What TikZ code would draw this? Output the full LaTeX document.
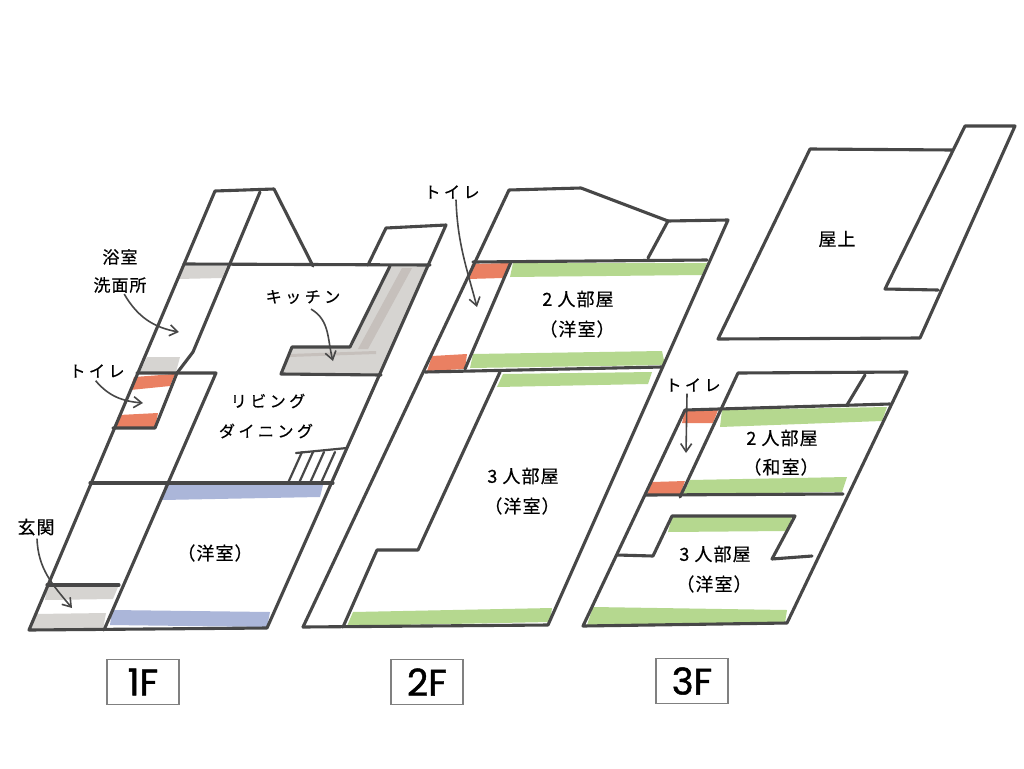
\documentclass[tikz,border=0pt]{standalone}
\usepackage{xcolor}
\usepackage{fontspec}
\usetikzlibrary{arrows.meta}
\newfontfamily\jpfont[LetterSpace=6,FakeBold=0.5]{Noto Sans CJK JP}
\newfontfamily\kanafont[LetterSpace=22,FakeBold=0.5]{Noto Sans CJK JP}
\newfontfamily\floorfont[FakeBold=1.2]{Poppins}
\definecolor{wallgrey}{HTML}{474747}
\definecolor{markgrey}{HTML}{D6D4D1}
\definecolor{streakgrey}{HTML}{C6C0BC}
\definecolor{markred}{HTML}{EA8062}
\definecolor{markblue}{HTML}{ABB6D9}
\definecolor{markgreen}{HTML}{B5D88F}
\tikzset{
  wall/.style={draw=wallgrey, line width=3.1pt, line join=round, line cap=round},
  leader/.style={draw=wallgrey, line width=1.6pt, -{Straight Barb[length=8pt,width=11pt]}},
  roomtext/.style={font=\jpfont\fontsize{18}{18}\selectfont, text=black, inner sep=1pt},
  washtext/.style={font=\jpfont\fontsize{17}{17}\selectfont, text=black, inner sep=1pt},
  kanatext/.style={font=\kanafont\fontsize{16}{16}\selectfont, text=black, inner sep=1pt},
  floorbox/.style={draw=gray, line width=1.6pt, minimum width=72pt, minimum height=45pt,
    font=\floorfont\fontsize{37}{37}\selectfont, text=black, inner sep=0pt}
}
\begin{document}
\begin{tikzpicture}[x=1pt,y=-1pt]
  \useasboundingbox (0,0) rectangle (1024,768);
  \fill[white] (0,0) rectangle (1024,768);

  % Marker colours, 1F
  \fill[markgrey] (183,266) -- (227,266) -- (222,278) -- (178,279) -- cycle;
  \fill[markgrey] (147,357) -- (180,357) -- (176,372) -- (140,372) -- cycle;
  \fill[markred] (134,377) -- (175,374) -- (170,386) -- (130,390) -- cycle;
  \fill[markred] (119,415) -- (158,413) -- (155,428) -- (114,428) -- cycle;
  \fill[markgrey] (390,266) -- (427,266) -- (381,375) -- (283,375) -- (292,347) -- (352,347) -- cycle;
  \fill[streakgrey] (402,268) -- (412,268) -- (368,349) -- (358,349) -- cycle;
  \fill[streakgrey] (290,354) -- (376,351) -- (376,354) -- (289,357) -- cycle;
  \fill[markblue] (165,485) -- (323,485) -- (320,497) -- (162,500) -- cycle;
  \fill[markblue] (112,610) -- (270,612) -- (267,627) -- (110,625) -- cycle;
  \fill[markgrey] (47,587) -- (118,587) -- (113,599) -- (45,600) -- cycle;
  \fill[markgrey] (35,614) -- (106,613) -- (103,629) -- (30,629) -- cycle;

  % Marker colours, 2F
  \fill[markred] (472,264) -- (510,263) -- (503,278) -- (468,279) -- cycle;
  \fill[markred] (432,356) -- (467,354) -- (465,369) -- (427,371) -- cycle;
  \fill[markgreen] (513,263) -- (707,263) -- (702,275) -- (510,277) -- cycle;
  \fill[markgreen] (473,354) -- (662,351) -- (665,365) -- (470,368) -- cycle;
  \fill[markgreen] (503,374) -- (652,372) -- (648,384) -- (497,387) -- cycle;
  \fill[markgreen] (353,612) -- (552,608) -- (550,622) -- (347,626) -- cycle;

  % Marker colours, 3F
  \fill[markred] (685,411) -- (718,410) -- (713,423) -- (682,423) -- cycle;
  \fill[markred] (652,482) -- (685,481) -- (680,495) -- (647,495) -- cycle;
  \fill[markgreen] (722,410) -- (887,407) -- (882,421) -- (720,427) -- cycle;
  \fill[markgreen] (690,480) -- (847,477) -- (842,492) -- (683,494) -- cycle;
  \fill[markgreen] (672,517) -- (792,517) -- (787,531) -- (668,532) -- cycle;
  \fill[markgreen] (593,607) -- (787,610) -- (785,623) -- (587,625) -- cycle;

  % Walls, 1F
  \draw[wall] (274,189) -- (215,191) -- (29,630) -- (267,628) -- (446,225) -- (386,228) -- (368,265);
  \draw[wall] (260,192) -- (193,352) -- (177,373);
  \draw[wall] (274,189) -- (313,266);
  \draw[wall] (184,264) -- (430,265);
  \draw[wall] (390,266) -- (350,347) -- (292,347) -- (281,374) -- (381,375);
  \draw[wall] (137,373) -- (216,373) -- (104,630);
  \draw[wall] (177,373) -- (155,428) -- (113,428);
  \draw[wall] (90,483) -- (333,483);
  \draw[wall] (47,585) -- (119,585);
  % Stairs
  \draw[wall, line width=2.2pt] (296,453) -- (347,448);
  \foreach \xtop/\xbot in {302/288, 313/299, 324/310, 335/321}
    \draw[wall, line width=2.2pt] (\xtop,452) -- (\xbot,483);

  % Walls, 2F
  \draw[wall] (303,627) -- (509,190) -- (581,188) -- (668,221);
  \draw[wall] (648,258) -- (668,221) -- (728,220) -- (548,625) -- (303,627);
  \draw[wall] (473,262) -- (707,260);
  \draw[wall] (511,262) -- (465,369);
  \draw[wall] (425,372) -- (662,367);
  \draw[wall] (500,372) -- (418,550) -- (377,550) -- (343,627);

  % Walls, 3F
  \draw[wall] (685,410) -- (583,626) -- (787,623) -- (907,372) -- (738,373) -- (680,497);
  \draw[wall] (685,410) -- (890,404);
  \draw[wall] (865,375) -- (847,405);
  \draw[wall] (646,495) -- (843,494);
  \draw[wall] (617,555) -- (653,556) -- (672,516) -- (795,516) -- (772,559) -- (812,556);

  % Walls, roof
  \draw[wall] (952,150) -- (810,149) -- (718,339) -- (920,338) -- (1015,126) -- (965,126) -- (885,289) -- (938,290);

  % Labels
  \node[washtext] (bathA) at (120,257) {浴室};
  \node[washtext] (bathB) at (120,285) {洗面所};
  \node[kanatext] (toiletA) at (97,371) {トイレ};
  \node[kanatext] (kitchen) at (303,297) {キッチン};
  \node[kanatext] (livingA) at (268,401) {リビング};
  \node[kanatext] (livingB) at (266,431) {ダイニング};
  \node[roomtext] (entry) at (36,527) {玄関};
  \node[roomtext] (roomA) at (215,553) {（洋室）};
  \node[kanatext] (toiletB) at (452,192) {トイレ};
  \node[roomtext] (twoA) at (578,299) {2 人部屋};
  \node[roomtext] (twoAsub) at (577,329) {（洋室）};
  \node[roomtext] (threeA) at (523,476) {3 人部屋};
  \node[roomtext] (threeAsub) at (522,506) {（洋室）};
  \node[kanatext] (toiletC) at (693,385) {トイレ};
  \node[roomtext] (twoB) at (782,438) {2 人部屋};
  \node[roomtext] (twoBsub) at (781,467) {（和室）};
  \node[roomtext] (threeB) at (715,554) {3 人部屋};
  \node[roomtext] (threeBsub) at (714,584) {（洋室）};
  \node[roomtext] (roof) at (837,239) {屋上};

  % Leader arrows
  \coordinate (bathend) at (179,332);
  \coordinate (toiletAend) at (143,403);
  \coordinate (kitchenend) at (333,361);
  \coordinate (entryend) at (72,608);
  \coordinate (toiletBend) at (477,307);
  \coordinate (toiletCend) at (686,453);
  \draw[leader] (bathB.-65) to[out=-60,in=170] (bathend);
  \draw[leader] (toiletA.-100) ++(0,2) to[out=-50,in=175] (toiletAend);
  \draw[leader] (kitchen.-90) ++(8,4) to[out=-30,in=105] (kitchenend);
  \draw[leader] (entry.south) ++(1,2) to[out=-88,in=130] (entryend);
  \draw[leader] (toiletB.south) ++(4,0) to[out=-88,in=105] (toiletBend);
  \draw[leader] (toiletC.south) ++(-6,1) -- (toiletCend);

  % Floor tags
  \node[floorbox] (floorA) at (143,682) {1F};
  \node[floorbox] (floorB) at (427,682) {2F};
  \node[floorbox] (floorC) at (692,681) {3F};
\end{tikzpicture}
\end{document}
